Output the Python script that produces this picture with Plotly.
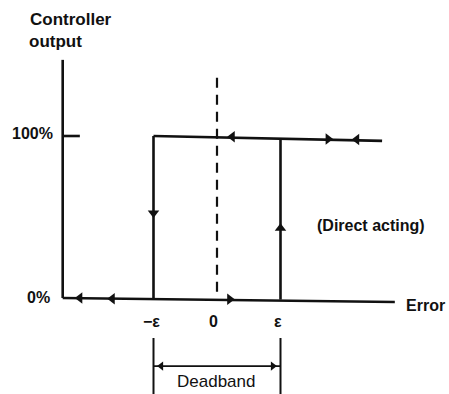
import plotly.graph_objects as go

EPS = 1.0
# Hysteresis (deadband) path of a two-position controller
top_x = [-EPS, 2.6]
top_y = [100, 97]
bottom_x = [-2.43, 2.8]
bottom_y = [0, -2.5]
left_edge_x = [-EPS, -EPS]
left_edge_y = [100, 0]
right_edge_x = [EPS, EPS]
right_edge_y = [98.5, -1]
center_x = [0, 0]
center_y = [136, 0]
yaxis_x = [-2.43, -2.43]
yaxis_y = [147, 0]
tick100_x = [-2.43, -2.16]
tick100_y = [100, 100]

# Direction arrows along the path
arrow_x = [0.24, 1.75, 2.2, -EPS, EPS, -2.16, -1.65, 0.2]
arrow_y = [99.5, 98.2, 97.8, 52.5, 43, 0, -0.4, -0.8]
arrow_sym = ["triangle-left", "triangle-right", "triangle-left", "triangle-down",
             "triangle-up", "triangle-left", "triangle-left", "triangle-right"]

# Deadband dimension
db_x = [-EPS, EPS]
db_tick_y = [-24.7, -60]
db_arrow_y = -42

INK = "#111111"
fig = go.Figure()

def line(xs, ys, dash="solid", w=2.6):
    fig.add_trace(go.Scatter(x=xs, y=ys, mode="lines",
                             line=dict(color=INK, width=w, dash=dash),
                             hoverinfo="skip", showlegend=False))

line(top_x, top_y)
line(bottom_x, bottom_y)
line(left_edge_x, left_edge_y)
line(right_edge_x, right_edge_y)
line(yaxis_x, yaxis_y)
line(tick100_x, tick100_y)
line(center_x, center_y, dash="10px,7px", w=2.2)
line([db_x[0]] * 2, db_tick_y, w=2)
line([db_x[1]] * 2, db_tick_y, w=2)
line(db_x, [db_arrow_y] * 2, w=1.8)

fig.add_trace(go.Scatter(x=arrow_x, y=arrow_y, mode="markers",
                         marker=dict(symbol=arrow_sym, size=10, color=INK),
                         hoverinfo="skip", showlegend=False))
fig.add_trace(go.Scatter(x=[db_x[0] + 0.12, db_x[1] - 0.12], y=[db_arrow_y] * 2,
                         mode="markers",
                         marker=dict(symbol=["triangle-left", "triangle-right"], size=8, color=INK),
                         hoverinfo="skip", showlegend=False))

FONT = dict(family="Liberation Sans, Arial, sans-serif", size=16, color=INK)

def txt(x, y, s, xa="center", size=16):
    fig.add_annotation(x=x, y=y, text=s, showarrow=False, xanchor=xa,
                       yanchor="middle", font=dict(FONT, size=size))

px_x = lambda p: (p - 217) / 63.5
px_y = lambda p: (298 - p) / 1.62

txt(px_x(55), px_y(133), "<b>100%</b>", xa="right", size=16)
txt(px_x(52), px_y(297), "<b>0%</b>", xa="right", size=16)
txt(px_x(151), px_y(321), "<b>−ε</b>", size=16)
txt(px_x(213), px_y(321), "<b>0</b>", size=16)
txt(px_x(278), px_y(321), "<b>ε</b>", size=16)
txt(px_x(404), px_y(305), "<b>Error</b>", xa="left", size=16)
txt(px_x(315), px_y(225), "<b>(Direct acting)</b>", xa="left", size=16)
txt(px_x(28), px_y(19), "<b>Controller</b>", xa="left", size=17)
txt(px_x(27), px_y(41), "<b>output</b>", xa="left", size=17)
txt(px_x(216), px_y(381), "Deadband", size=17)

x0, x1 = px_x(0), px_x(449)
y0, y1 = px_y(394), px_y(0)
fig.update_xaxes(range=[x0, x1], visible=False, fixedrange=True)
fig.update_yaxes(range=[y0, y1], visible=False, fixedrange=True)
fig.update_layout(width=449, height=394, margin=dict(l=0, r=0, t=0, b=0),
                  plot_bgcolor="white", paper_bgcolor="white")
fig.write_html("out.html", config={"displayModeBar": False},
               post_script="document.body.style.margin='0';document.body.style.overflow='hidden';")
